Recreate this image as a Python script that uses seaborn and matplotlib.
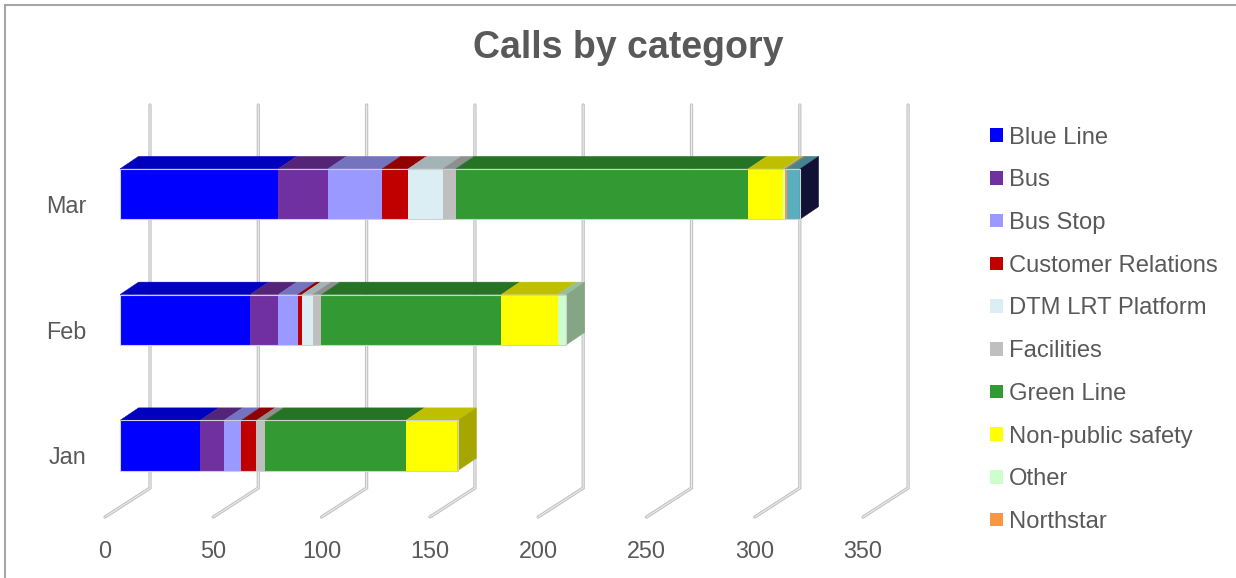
import numpy as np
import pandas as pd
import seaborn as sns
import matplotlib.pyplot as plt
import matplotlib.transforms as mtransforms
from matplotlib.patches import Polygon, Patch
from matplotlib.lines import Line2D
from matplotlib.colors import to_rgb

# data (calls per month)
months = ["Jan", "Feb", "Mar"]
blue_line = [37, 60, 73]
bus = [11, 13, 23]
bus_stop = [8, 9, 25]
customer_relations = [7, 2, 12]
dtm_lrt_platform = [0, 5, 16]
facilities = [4, 4, 6]
green_line = [65, 83, 135]
non_public_safety = [24, 26, 16]
other = [np.nan, 4, 1]
northstar = [np.nan, np.nan, 1]
police = [np.nan, np.nan, 6]      # not shown in the (cut off) legend
unknown = [np.nan, np.nan, 0]     # not shown in the (cut off) legend

categories = ["Blue Line", "Bus", "Bus Stop", "Customer Relations", "DTM LRT Platform",
              "Facilities", "Green Line", "Non-public safety", "Other", "Northstar",
              "Police", "Unknown"]
colors = ["#0000FF", "#7030A0", "#9999FF", "#C00000", "#DAEEF3", "#BFBFBF",
          "#339933", "#FFFF00", "#CCFFCC", "#F79646", "#5AAFBE", "#1A1A52"]
n_legend = 10
ticks = [0, 50, 100, 150, 200, 250, 300, 350]

df = pd.DataFrame(dict(zip(categories, [blue_line, bus, bus_stop, customer_relations,
                                        dtm_lrt_platform, facilities, green_line,
                                        non_public_safety, other, northstar, police, unknown])),
                  index=months)
cum = df.fillna(0).cumsum(axis=1)
order = ["Mar", "Feb", "Jan"]
pos = {m: i for i, m in enumerate(order)}

sns.set_style("white")
plt.rcParams['font.family'] = ['Liberation Sans', 'DejaVu Sans']
grey_txt = "#595959"

W, H = 1236, 578
fig = plt.figure(figsize=(W / 100, H / 100), dpi=100)
ax = fig.add_axes([100 / W, 1 - 525 / H, 830 / W, 430 / H])

pxu = 2.166          # pixels per call
ypx = 125.75         # pixels per category step
bar_h = 0.4
bdx, bdy = 18.5 / pxu, 12.5 / ypx   # bar depth

# 3d wall / floor gridlines
wall_off = 30 / pxu
front_off = -15 / pxu
y_front, y_back, y_top = (517 - 194) / ypx, (488 - 194) / ypx, (105 - 194) / ypx
for v in ticks:
    xs = [v + front_off, v + wall_off, v + wall_off]
    ys = [y_front, y_back, y_top]
    ax.plot(xs, ys, color="#c4c4c4", lw=2.4, zorder=1, clip_on=False, solid_joinstyle="miter")
    ax.plot(xs, ys, color="#eeeeee", lw=0.7, zorder=1.1, clip_on=False)

# stacked bars: draw cumulative totals from the back, biggest first
for cat, col in reversed(list(zip(categories, colors))):
    layer = pd.DataFrame({"month": months, "cum": cum[cat].values})
    sns.barplot(data=layer, x="cum", y="month", order=order, orient="h", color=col,
                width=bar_h, errorbar=None, ax=ax, zorder=3, linewidth=0, saturation=1)

totals = pd.DataFrame({"month": months, "cum": cum.iloc[:, -1].values})
sns.barplot(data=totals, x="cum", y="month", order=order, orient="h", fill=False,
            color="#d0d0d0", width=bar_h, errorbar=None, ax=ax, zorder=4, linewidth=0.8)

# top faces and end caps
for m in months:
    yc = pos[m]
    top = yc - bar_h / 2
    last_col = None
    for cat, col in zip(categories, colors):
        val = df.loc[m, cat]
        if np.isnan(val):
            continue
        right = cum.loc[m, cat]
        left = right - val
        last_col = col
        if val > 0:
            c = np.array(to_rgb(col)) * 0.75
            ax.add_patch(Polygon([(left, top), (right, top), (right + bdx, top - bdy),
                                  (left + bdx, top - bdy)], closed=True, fc=c, ec=c,
                                 lw=0.3, zorder=3.5))
    end = cum.loc[m].iloc[-1]
    c = np.array(to_rgb(last_col)) * 0.65
    ax.add_patch(Polygon([(end, top), (end + bdx, top - bdy), (end + bdx, top + bar_h - bdy),
                          (end, top + bar_h)], closed=True, fc=c, ec=c, lw=0.3, zorder=3.5))

ax.set_xlim(-20 / pxu, 810 / pxu)
ax.set_ylim((525 - 194) / ypx, (95 - 194) / ypx)
ax.set_xlabel("")
ax.set_ylabel("")
sns.despine(ax=ax, left=True, bottom=True)
ax.set_xticks(ticks)
ax.set_xticklabels([str(t) for t in ticks])
ax.tick_params(length=0, labelsize=16.8, labelcolor=grey_txt)
ax.tick_params(axis="x", pad=11)
ax.tick_params(axis="y", pad=10)
for lab in ax.get_xticklabels():
    lab.set_transform(lab.get_transform() + mtransforms.ScaledTranslation(-0.15, 0, fig.dpi_scale_trans))
for lab in ax.get_yticklabels():
    lab.set_transform(lab.get_transform() + mtransforms.ScaledTranslation(0, -0.10, fig.dpi_scale_trans))

fig.text(628 / W, 1 - 58.3 / H, "Calls by category", ha="center", va="baseline",
         fontsize=27, fontweight="bold", color=grey_txt)

handles = [Patch(facecolor=c, edgecolor="none") for c in colors[:n_legend]]
fig.legend(handles, categories[:n_legend], loc="upper left",
           bbox_to_anchor=(990 / W, 1 - 126.5 / H), frameon=False, fontsize=17.1,
           labelcolor=grey_txt, handlelength=0.55, handleheight=0.5, handletextpad=0.25,
           labelspacing=0.873, borderpad=0, borderaxespad=0)

# chart frame (only top/left edges are visible in the crop)
fig.add_artist(Line2D([5.3 / W, 5.3 / W], [1 - 4.7 / H, -0.05], color="#a6a6a6", lw=1.5,
                      transform=fig.transFigure))
fig.add_artist(Line2D([5.3 / W, 1.05], [1 - 4.7 / H, 1 - 4.7 / H], color="#a6a6a6", lw=1.5,
                      transform=fig.transFigure))

fig.savefig("out.png", dpi=100)
